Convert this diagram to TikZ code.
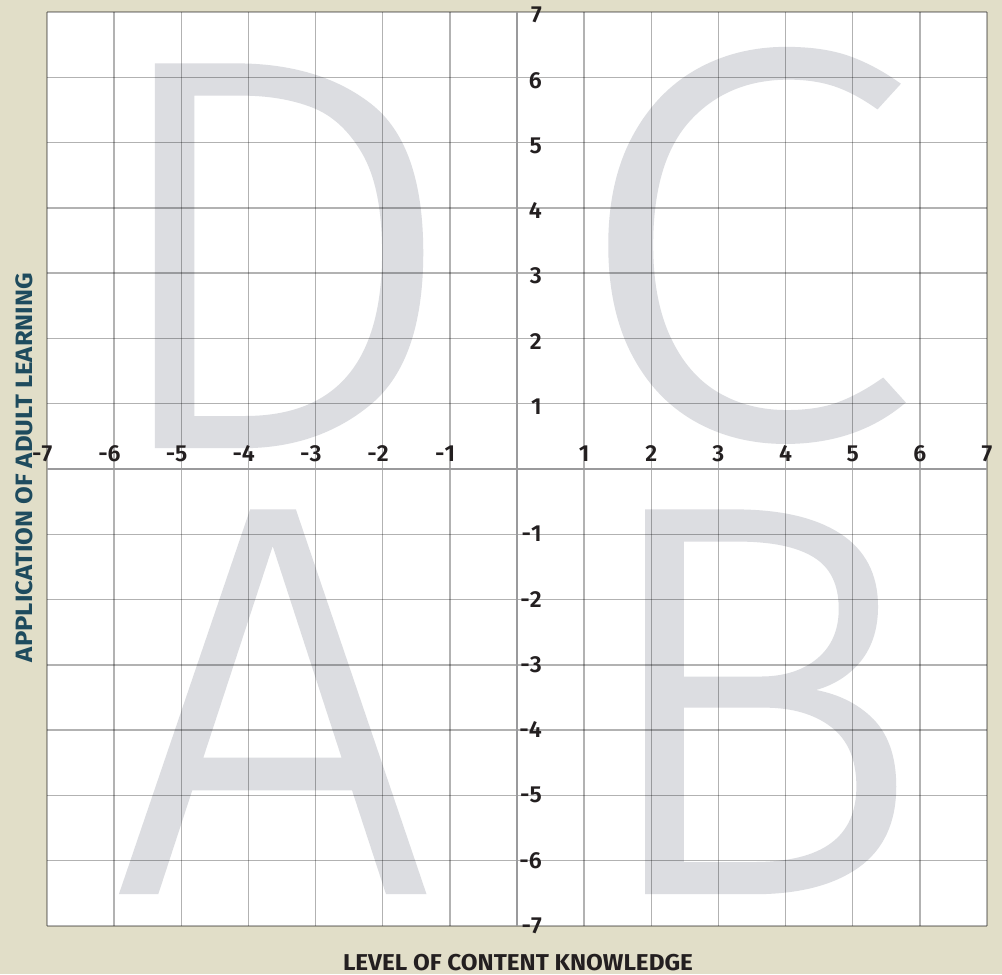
\documentclass[tikz,border=0pt]{standalone}
\usepackage{fontspec}
\usepackage{graphicx}
\setmainfont{Fira Sans}
\newfontfamily\letterfont{Fira Sans Light}[FakeBold=0.8]
\newfontfamily\numfont{Fira Sans SemiBold}
\definecolor{bgbeige}{HTML}{E1DEC8}
\definecolor{lettergray}{HTML}{DCDDE1}
\definecolor{axisgray}{HTML}{9A9A9C}
\definecolor{labelblack}{HTML}{231F20}
\definecolor{labelteal}{HTML}{1E4B5E}
\tikzset{
  bigletter/.style={font=\letterfont\fontsize{416.5}{416.5}\selectfont, text=lettergray, inner sep=0pt, anchor=base},
  gridline/.style={draw=black, draw opacity=0.3, line width=1.1pt},
  axisline/.style={draw=axisgray, line width=2.2pt},
  numlabel/.style={font=\numfont\fontsize{17.4}{17.4}\selectfont, text=labelblack, inner sep=0pt},
  axistitle/.style={font=\bfseries, inner sep=0pt}
}
\begin{document}
\begin{tikzpicture}[x=0.75pt,y=-0.75pt]
\useasboundingbox (0,0) rectangle (1002,974);
\fill[bgbeige] (0,0) rectangle (1002,974);
\fill[white] (47,12) rectangle (987,926);
% big letters
\node[bigletter, xscale=1.044] (D) at (276,446) {D};
\node[bigletter, xscale=1.139] (C) at (743,435.6) {C};
\node[bigletter, xscale=1.02] (A) at (273,892) {A};
\node[bigletter, xscale=1.025] (B) at (754.5,892) {B};
% grid
\foreach \i in {0,...,14}{
  \draw[gridline] ({47+\i*67.142857},12) -- ({47+\i*67.142857},926);
  \draw[gridline] (47,{12+\i*65.285714}) -- (987,{12+\i*65.285714});
}
% axes
\coordinate (xl) at (47,469);
\coordinate (xr) at (987,469);
\coordinate (yt) at (517,12);
\coordinate (yb) at (517,926);
\draw[axisline] (xl) -- (xr);
\draw[axisline] (yt) -- (yb);
% x labels
\foreach \v in {1,...,7}{
  \node[numlabel] (xp\v) at ({517+\v*67.142857},454) {\v};
  \node[numlabel] (xn\v) at ({517-\v*67.142857},454) {\llap{-}\v};
  \node[numlabel, anchor=east] (yp\v) at (542,{469-\v*65.285714+3}) {\v};
  \node[numlabel, anchor=east] (yn\v) at (542,{469+\v*65.285714-0.5}) {\llap{-}\v};
}
% titles
\node[axistitle, text=labelblack] (xtitle) at (518,963) {\resizebox{262.5pt}{12.2pt}{LEVEL OF CONTENT KNOWLEDGE}};
\node[axistitle, text=labelteal, rotate=90] (ytitle) at (24,467.5) {\resizebox{291.75pt}{12.6pt}{APPLICATION OF ADULT LEARNING}};
\end{tikzpicture}
\end{document}
